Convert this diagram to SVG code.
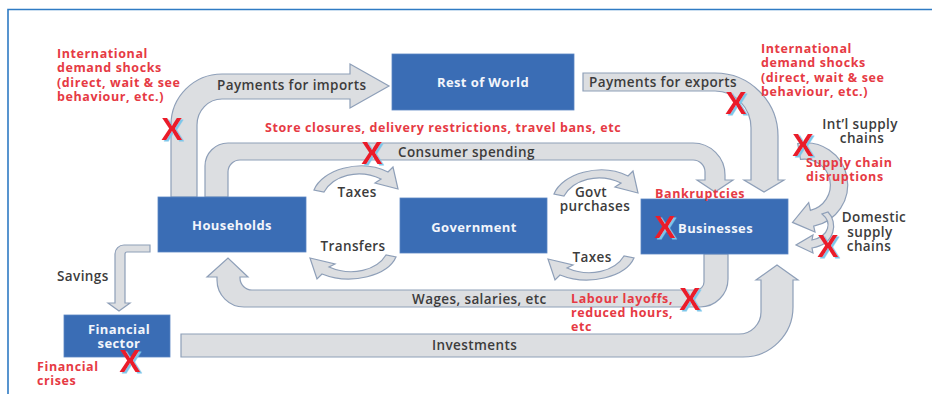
<svg xmlns="http://www.w3.org/2000/svg" width="932" height="394" viewBox="0 0 932 394">
<defs>
<filter id="xshadow" x="-30%" y="-30%" width="160%" height="160%">
  <feDropShadow dx="2" dy="1.5" stdDeviation="0.3" flood-color="#7cc6ea" flood-opacity="1"/>
</filter>
</defs>
<style>
.frame{fill:none;stroke:#2f7bc4;stroke-width:1.6}
.box{fill:#3a6db5;stroke:#5a86c4;stroke-width:0.8}
.bt{font-family:"Open Sans","Liberation Sans",sans-serif;font-size:13px;letter-spacing:0.4px;font-weight:700;fill:#f2f5fb;text-anchor:middle}
.arr{fill:#dcdee1;stroke:#8e9fb8;stroke-width:1.2;stroke-linejoin:miter}
.lb{font-family:"Open Sans","Liberation Sans",sans-serif;font-size:13.5px;letter-spacing:0.4px;font-weight:600;fill:#3c3c3c}
.rd{font-family:"Open Sans","Liberation Sans",sans-serif;font-size:12.5px;letter-spacing:0.6px;font-weight:700;fill:#e63a44}
.xr{font-family:"Liberation Sans","Arial",sans-serif;font-size:32px;font-weight:700;text-anchor:middle;fill:#ea1f2a;filter:url(#xshadow)}
</style>
<rect width="932" height="394" fill="#ffffff"/>
<path class="frame" d="M8,394 L8,9.5 L932,9.5"/>

<g id="connectors">
  <!-- Payments for imports -->
  <path class="arr" d="M171,197 L171,125 A51,51 0 0 1 222,74 L350,74 L350,64 L389,86 L350,108 L350,99 L222,99 A25,26 0 0 0 197,125 L197,197 Z"/>
  <!-- Payments for exports -->
  <path class="arr" d="M583,73 L715,73 A63,63 0 0 1 778,136 L778,180 L784,180 L764,192 L744,180 L751,180 L751,128 A36,37 0 0 0 715,91 L583,91 Z"/>
  <!-- Consumer spending -->
  <path class="arr" d="M205,197 L205,166 A23,23 0 0 1 228,143 L693,143 A32,32 0 0 1 725,175 L725,180 L733,180 L715,192 L697,180 L705,180 L705,172 A12,12 0 0 0 693,160 L240,160 A12,12 0 0 0 228,172 L228,197 Z"/>
  <!-- Wages, salaries, etc -->
  <path class="arr" d="M704,254 L704,282 A8,8 0 0 1 696,290 L252,290 A12,12 0 0 1 240,278 L240,277 L248,277 L228,258 L207,277 L217,277 L217,280 A27,27 0 0 0 244,307 L700,307 A28,28 0 0 0 728,279 L728,254 Z"/>
  <!-- Investments -->
  <path class="arr" d="M181,334 L739,334 A22,22 0 0 0 761,312 L761,280 L756,280 L777,265 L798,280 L793,280 L793,307 A50,50 0 0 1 743,357 L181,357 Z"/>
  <!-- Savings -->
  <path class="arr" d="M150,245 L124,245 A9,9 0 0 0 115,254 L115,303 L108,303 L119,311 L130,303 L125,303 L125,254 A2,2 0 0 1 127,252 L150,252 Z"/>
  <!-- Taxes (households to government) -->
  <path class="arr" d="M314,190 C322,170 360,158 388,172 L393,167 L398,189 L375,183 L381,179 C358,168 333,176 324,192 Z"/>
  <!-- Transfers -->
  <path class="arr" d="M396,257 C388,275 352,286 322,274 L317,279 L310,258 L335,264 L329,267 C352,277 377,270 386,255 Z"/>
  <!-- Govt purchases -->
  <path class="arr" transform="translate(240,4)" d="M314,190 C322,170 360,158 388,172 L393,167 L398,189 L375,183 L381,179 C358,168 333,176 324,192 Z"/>
  <!-- Taxes (businesses to government) -->
  <path class="arr" transform="translate(238,1)" d="M396,257 C388,275 352,286 322,274 L317,279 L310,258 L335,264 L329,267 C352,277 377,270 386,255 Z"/>
  <!-- Int'l supply chains -->
  <path class="arr" d="M797.7,143.6 A42,42 0 0 1 813.7,226.1 L815,232 L792.5,222.4 L808.7,202.6 L810.4,210.4 A26,26 0 0 0 800.5,159.4 Z"/>
  <!-- Domestic supply chains -->
  <path class="arr" d="M822,214 C832,222 830,236 812,240 L813,235 L796,245 L813,253 L812,248 C836,244 838,222 828,212 Z"/>
</g>

<g id="rest-of-world">
  <rect class="box" x="392" y="54" width="182" height="56"/>
  <text class="bt" x="483" y="87">Rest of World</text>
</g>
<g id="households">
  <rect class="box" x="158" y="197" width="148" height="55"/>
  <text class="bt" x="232" y="230">Households</text>
</g>
<g id="government">
  <rect class="box" x="400" y="198" width="147" height="55"/>
  <text class="bt" x="474" y="232">Government</text>
</g>
<g id="businesses">
  <rect class="box" x="641" y="199" width="147" height="55"/>
  <text class="bt" x="678" y="233" style="text-anchor:start">Businesses</text>
</g>
<g id="financial-sector">
  <rect class="box" x="64" y="315" width="106" height="42"/>
  <text class="bt" x="119" y="334">Financial</text>
  <text class="bt" x="119" y="348">sector</text>
</g>

<g id="labels">
  <text class="lb" x="217" y="90">Payments for imports</text>
  <text class="lb" x="589" y="87">Payments for exports</text>
  <text class="lb" x="398" y="157">Consumer spending</text>
  <text class="lb" x="357" y="197" text-anchor="middle">Taxes</text>
  <text class="lb" x="353" y="251" text-anchor="middle">Transfers</text>
  <text class="lb" x="591" y="197" text-anchor="middle">Govt</text>
  <text class="lb" x="595" y="211" text-anchor="middle">purchases</text>
  <text class="lb" x="592" y="262" text-anchor="middle">Taxes</text>
  <text class="lb" x="412" y="304">Wages, salaries, etc</text>
  <text class="lb" x="432" y="350">Investments</text>
  <text class="lb" x="57" y="281">Savings</text>
  <text class="lb" x="860" y="129" text-anchor="middle">Int’l supply</text>
  <text class="lb" x="862" y="143" text-anchor="middle">chains</text>
  <text class="lb" x="874" y="222" text-anchor="middle">Domestic</text>
  <text class="lb" x="870" y="237" text-anchor="middle">supply</text>
  <text class="lb" x="869" y="251" text-anchor="middle">chains</text>
</g>

<g id="shock-labels">
  <text class="rd" x="57" y="58">International</text>
  <text class="rd" x="57" y="72">demand shocks</text>
  <text class="rd" x="57" y="87">(direct, wait &amp; see</text>
  <text class="rd" x="57" y="101">behaviour, etc.)</text>
  <text class="rd" x="761" y="53">International</text>
  <text class="rd" x="761" y="67">demand shocks</text>
  <text class="rd" x="761" y="82">(direct, wait &amp; see</text>
  <text class="rd" x="761" y="96">behaviour, etc.)</text>
  <text class="rd" x="265" y="132">Store closures, delivery restrictions, travel bans, etc</text>
  <text class="rd" x="806" y="167">Supply chain</text>
  <text class="rd" x="806" y="181">disruptions</text>
  <text class="rd" x="655" y="198">Bankruptcies</text>
  <text class="rd" x="571" y="303">Labour layoffs,</text>
  <text class="rd" x="571" y="317">reduced hours,</text>
  <text class="rd" x="571" y="331">etc</text>
  <text class="rd" x="37" y="371">Financial</text>
  <text class="rd" x="37" y="385">crises</text>
</g>

<g id="x-marks">
  <text class="xr" x="172" y="140">X</text>
  <text class="xr" x="372" y="164">X</text>
  <text class="xr" x="736" y="114">X</text>
  <text class="xr" x="803" y="156">X</text>
  <text class="xr" x="665" y="238">X</text>
  <text class="xr" x="828" y="257">X</text>
  <text class="xr" x="690" y="310">X</text>
  <text class="xr" x="130" y="372">X</text>
</g>
</svg>
